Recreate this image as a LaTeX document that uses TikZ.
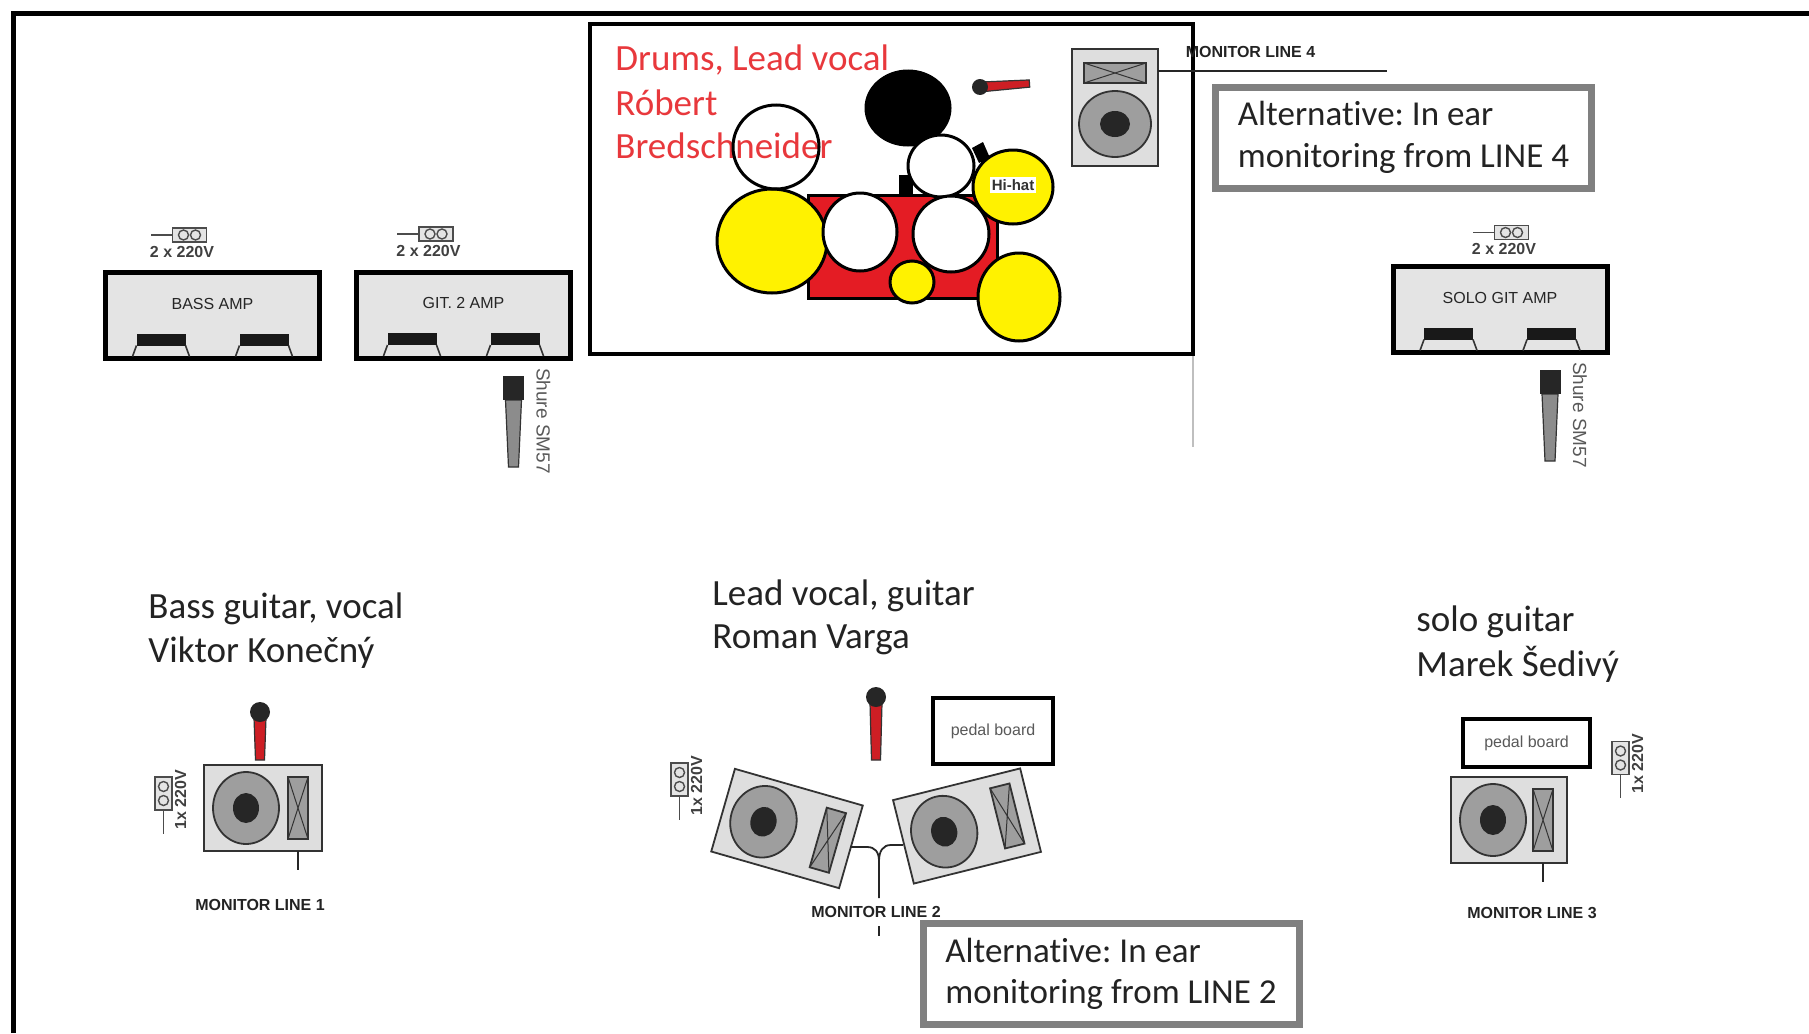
\documentclass[tikz,border=0pt]{standalone}
\usepackage{fontspec}
\setmainfont{Carlito}[Ligatures=NoCommon]
\newfontfamily\arialfont{Liberation Sans}
\frenchspacing

\definecolor{labelred}{RGB}{232,56,60}
\definecolor{labeldark}{RGB}{35,35,35}
\definecolor{kickred}{RGB}{228,28,36}
\definecolor{cymbal}{RGB}{255,242,0}
\definecolor{ampfill}{RGB}{228,228,228}
\definecolor{wedgefill}{RGB}{222,222,222}
\definecolor{wooferfill}{RGB}{158,158,158}
\definecolor{altgray}{RGB}{128,128,128}
\definecolor{micred}{RGB}{205,30,36}
\definecolor{smgray}{RGB}{140,140,140}

\tikzset{
  drum/.style={draw=black, line width=1.5pt},
  wedgeline/.style={draw=black!80, line width=0.9pt},
  plugline/.style={draw=black!70, line width=0.7pt},
  micline/.style={draw=black!80, line width=0.6pt},
  cable/.style={draw=black!85, line width=0.9pt},
  redlabel/.style={text=labelred, font=\fontsize{18.5}{22}\selectfont, inner sep=0pt, anchor=base west},
  namelabel/.style={text=labeldark, font=\fontsize{18.5}{22}\selectfont, inner sep=0pt, anchor=base west},
  monlabel/.style={text=labeldark, font=\arialfont\bfseries\fontsize{8}{9}\selectfont, inner sep=0pt, anchor=base},
  amplabel/.style={text=black!85, font=\arialfont\fontsize{8}{9}\selectfont, inner sep=0pt},
  plugtext/.style={text=black!75, font=\arialfont\bfseries\fontsize{8}{9}\selectfont, inner sep=0pt},
  shuretext/.style={text=black!65, font=\arialfont\fontsize{9.5}{11}\selectfont, inner sep=0pt},
  pedalbox/.style={draw=black, line width=2.3pt, fill=white, text=black!65, font=\arialfont\fontsize{8}{9}\selectfont, inner sep=0pt},
  altbox/.style={draw=altgray, line width=3.5pt, fill=white, text=labeldark, font=\fontsize{17.5}{20.75}\selectfont, align=left, inner sep=0pt, minimum width=188pt, minimum height=50.5pt},
  ampbox/.pic={
    \draw[line width=2.5pt, fill=ampfill] (-107,-43) rectangle (107,43);
    \foreach \sx in {-1,1} {
      \fill[black!90] (\sx*27,18) rectangle (\sx*76,30);
      \draw[black!80, line width=0.8pt] (\sx*27,30) -- (\sx*23,41) (\sx*76,30) -- (\sx*80,41);
    }
    \node[amplabel] at (0,-12) {#1};
  },
  monwedge/.pic={
    \draw[wedgeline, fill=wedgefill] (-#1/2,-43) rectangle (#1/2,43);
    \draw[wedgeline, fill=wooferfill] (-#1/2+42,0) ellipse[x radius=33, y radius=36];
    \fill[black!85] (-#1/2+42,0) ellipse[x radius=13, y radius=15];
    \draw[wedgeline, fill=wooferfill] (#1/2-34,-31) rectangle (#1/2-14,31);
    \draw[black!80, line width=0.5pt] (#1/2-34,-31) -- (#1/2-14,31) (#1/2-34,31) -- (#1/2-14,-31);
  },
  powerh/.pic={
    \draw[plugline] (-17,0) -- (-39,0);
    \draw[plugline, fill=ampfill] (-17,-7) rectangle (17,7);
    \draw[plugline] (-6,0) circle[radius=5] (6,0) circle[radius=5];
    \node[plugtext, anchor=base] at (-7.5,22) {2 x 220V};
  },
  powerv/.pic={
    \draw[plugline] (0,16.5) -- (0,40);
    \draw[plugline, fill=ampfill] (-8.5,-16.5) rectangle (8.5,16.5);
    \draw[plugline] (0,-7) circle[radius=5] (0,7) circle[radius=5];
    \node[plugtext, rotate=90] at (17,6) {1x 220V};
  },
  redmic/.pic={
    \draw[micline, fill=micred] (-6,6) -- (6,6) -- (4.5,#1) -- (-4.5,#1) -- cycle;
    \fill[black!85] (0,0) circle[radius=10];
  },
  sm57/.pic={
    \draw[micline, fill=smgray] (-8,24) -- (8,24) -- (5,91) -- (-5,91) -- cycle;
    \fill[black!85] (-10.5,0) rectangle (10.5,24);
    \node[shuretext, rotate=-90] at (30,45) {Shure SM57};
  },
}

\begin{document}
\begin{tikzpicture}[x=0.5pt, y=-0.5pt]
    \useasboundingbox (0,0) rectangle (1809,1033);

    % stage
    \draw[line width=2.5pt] (13,1033) -- (13,13) -- (1809,13);

    % drum riser
    \draw[line width=2.2pt] (590,24) rectangle (1193,354);
    \draw[black!25, line width=0.6pt] (1193,356) -- (1193,447);

    % drum kit
    \draw[drum, fill=kickred] (808,195) rectangle (997,298);
    \fill[black] (899,175) rectangle (913,197);
    \fill[black] (972,148) -- (983,142) -- (990,158) -- (979,163) -- cycle;
    \draw[drum, fill=black] (908,108) ellipse[x radius=42, y radius=37];
    \draw[drum, fill=cymbal] (772,241) ellipse[x radius=55, y radius=52];
    \draw[drum, fill=white] (941,166) ellipse[x radius=33, y radius=31];
    \draw[drum, fill=white] (860,232) ellipse[x radius=37, y radius=39];
    \draw[drum, fill=white] (951,234) ellipse[x radius=38, y radius=38];
    \draw[drum, fill=cymbal] (912,282) ellipse[x radius=22, y radius=21];
    \draw[drum, fill=cymbal] (1013,187) ellipse[x radius=40, y radius=37];
    \draw[drum, fill=cymbal] (1019,297) ellipse[x radius=41, y radius=44];
    \node[fill=white, inner sep=1pt, font=\arialfont\bfseries\fontsize{7.5}{9}\selectfont, text=black!80] (hihat) at (1013,185) {Hi-hat};

    \node[redlabel] (drums1) at (615,70) {Drums, Lead vocal};
    \node[redlabel] (drums2) at (615,115) {Róbert};
    \node[redlabel] (drums3) at (615,158) {Bredschneider};
    \draw[drum] (776,147) ellipse[x radius=43, y radius=42];

    \pic[rotate=94, scale=0.8] (drummic) at (980,87) {redmic=62};

    % monitor line 4
    \pic[rotate=90] (wedge4) at (1115,107.5) {monwedge=117};
    \coordinate (w4out) at (1158,71);
    \coordinate (w4end) at (1387,71);
    \draw[cable] (w4out) -- (w4end);
    \node[monlabel] (mon4) at (1250.5,57) {MONITOR LINE 4};
    \node[altbox] (alt4) at (1403.5,137.5) {Alternative: In ear\\monitoring from LINE 4};

    % amps
    \pic (bassamp) at (212.5,315.5) {ampbox={BASS AMP}};
    \pic (gitamp) at (463.5,315) {ampbox={GIT. 2 AMP}};
    \pic (soloamp) at (1500,309.5) {ampbox={SOLO GIT AMP}};
    \pic (bassplug) at (189.5,235) {powerh};
    \pic (gitplug) at (436,234) {powerh};
    \pic (soloplug) at (1511.5,232.5) {powerh};
    \pic (gitmic) at (513.5,376) {sm57};
    \pic (solomic) at (1550,370) {sm57};

    % bass guitar
    \node[namelabel] (bass1) at (148,618) {Bass guitar, vocal};
    \node[namelabel] (bass2) at (148,662) {Viktor Konečný};
    \pic (bassvoc) at (260,712) {redmic=48};
    \pic (wedge1) at (263,808) {monwedge=118};
    \pic (bassplug2) at (163.5,793.5) {powerv};
    \coordinate (w1out) at (298,851);
    \coordinate (w1end) at (298,870);
    \draw[cable] (w1out) -- (w1end);
    \node[monlabel] (mon1) at (260,910) {MONITOR LINE 1};

    % lead vocal
    \node[namelabel] (lead1) at (712,605) {Lead vocal, guitar};
    \node[namelabel] (lead2) at (712,648) {Roman Varga};
    \pic (leadvoc) at (876,697) {redmic=63};
    \node[pedalbox, minimum width=60pt, minimum height=33pt] (pedal2) at (993,731) {pedal board};
    \pic[rotate=-16] (wedge2l) at (787,828.5) {monwedge=133};
    \pic[rotate=14] (wedge2r) at (967,826) {monwedge=131};
    \pic (leadplug) at (679.5,779.5) {powerv};
    \coordinate (w2l) at (850,847);
    \coordinate (w2r) at (903,845);
    \coordinate (w2join) at (879,861);
    \coordinate (w2end) at (879,898);
    \draw[cable] (w2l) -- (867,847) .. controls (875,847) and (879,852) .. (w2join) -- (w2end);
    \draw[cable] (w2r) -- (891,845) .. controls (883,845) and (879,851) .. (w2join);
    \node[monlabel] (mon2) at (876,917) {MONITOR LINE 2};
    \coordinate (t2a) at (879,926);
    \coordinate (t2b) at (879,936);
    \draw[cable] (t2a) -- (t2b);
    \node[altbox] (alt2) at (1111,974) {Alternative: In ear\\monitoring from LINE 2};

    % solo guitar
    \node[namelabel] (solo1) at (1416,631) {solo guitar};
    \node[namelabel] (solo2) at (1416,676) {Marek Šedivý};
    \node[pedalbox, minimum width=63.5pt, minimum height=24pt] (pedal3) at (1526.5,743) {pedal board};
    \pic (wedge3) at (1509,820) {monwedge=116};
    \pic (soloplug2) at (1620.5,758) {powerv};
    \coordinate (w3out) at (1543,863);
    \coordinate (w3end) at (1543,882);
    \draw[cable] (w3out) -- (w3end);
    \node[monlabel] (mon3) at (1532,918) {MONITOR LINE 3};
\end{tikzpicture}
\end{document}
